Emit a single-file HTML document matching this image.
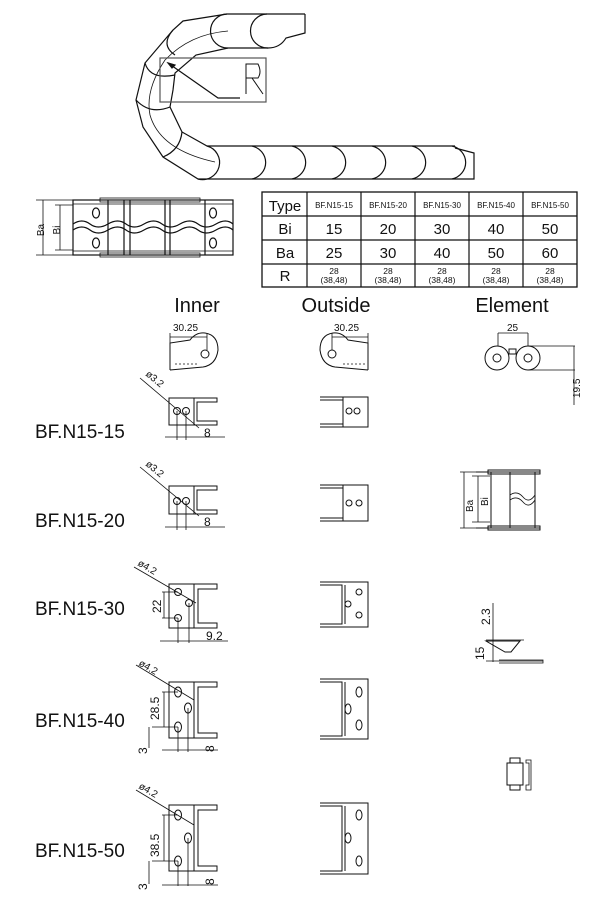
<!DOCTYPE html>
<html><head><meta charset="utf-8"><style>
html,body{margin:0;padding:0;background:#fff;}
svg{display:block;}
text{font-family:"Liberation Sans",sans-serif;fill:#111;}
</style></head><body>
<svg width="607" height="899" viewBox="0 0 607 899" xmlns="http://www.w3.org/2000/svg">
<g fill="none" stroke="#111" stroke-width="1.2">
<path d="M305,14 L227,14 L183,21 L173,30 L145,63 L136,100 L143,127 L163,157 L198,179 L455,179"/>
<path d="M305,14 L305,33 L286,38 Q280,48 268,48 L228,48 L196,55 L175,73 L173,90 L170,107 L182,132 L207,146 L455,146"/>
<path d="M227,14 A17,17 0 0 0 228,48"/>
<path d="M267,14 A17,17 0 0 0 268,48"/>
<path d="M173,30 Q160,45 175,55"/>
<path d="M145,63 Q150,80 175,75"/>
<path d="M136,100 Q150,115 170,107"/>
<path d="M163,157 Q180,150 182,132"/>
<path d="M207,146 A17,17 0 0 1 198,179" />
<path d="M455,148 L474,153 L474,179 L455,179"/>
<path d="M252,146 A18,17 0 0 1 252,179"/>
<path d="M292,146 A18,17 0 0 1 292,179"/>
<path d="M332,146 A18,17 0 0 1 332,179"/>
<path d="M372,146 A18,17 0 0 1 372,179"/>
<path d="M412,146 A18,17 0 0 1 412,179"/>
<path d="M452,146 A18,17 0 0 1 452,179"/>
<path stroke-width="0.8" d="M228,31 Q190,34 165,60 Q145,90 150,115 Q160,150 215,162"/>
<rect x="160" y="58" width="106" height="44" stroke="#555"/>
<path d="M168,63 L218,98 L240,98"/>
<path d="M168,63 l7,2 l-3,3z" fill="#111"/>
<path d="M246,94 L246,64 L258,64 Q262,72 258,78 L246,78 M252,78 L263,94" stroke-width="1"/>
<rect x="73" y="200" width="160" height="55"/>
<path d="M73,204 H233 M73,251 H233" stroke-width="0.8"/>
<path d="M108,200 V255 M124,200 V255 M130,200 V255 M165,200 V255 M170,200 V255 M205,200 V255"/>
<path d="M73,224 Q82,218 90,224 T108,224 T126,224 T144,224 T162,224 T180,224 T198,224 T216,224 T233,224"/>
<path d="M73,230 Q82,224 90,230 T108,230 T126,230 T144,230 T162,230 T180,230 T198,230 T216,230 T233,230"/>
<ellipse cx="96" cy="213" rx="3.5" ry="5"/><ellipse cx="96" cy="243" rx="3.5" ry="5"/>
<ellipse cx="213" cy="213" rx="3.5" ry="5"/><ellipse cx="213" cy="243" rx="3.5" ry="5"/>
<rect x="100" y="198" width="100" height="4" stroke-width="0.8"/>
<rect x="100" y="253" width="100" height="4" stroke-width="0.8"/>
<path d="M36,200 H73 M36,255 H73 M43,200 V255 M55,205 H73 M55,250 H73 M60,205 V250" stroke-width="0.8"/>
<rect x="262" y="192" width="315" height="95" stroke-width="1.3"/>
<path d="M262,216 H577 M262,240 H577 M262,264 H577 M307,192 V287 M361,192 V287 M415,192 V287 M469,192 V287 M523,192 V287"/>
</g>
<g font-size="10">
<text x="44" y="230" transform="rotate(-90 44 230)" text-anchor="middle" font-family="Liberation Serif">Ba</text>
<text x="60" y="230" transform="rotate(-90 60 230)" text-anchor="middle" font-family="Liberation Serif">Bi</text>
</g>
<g text-anchor="middle">
<text x="285" y="211" font-size="15">Type</text>
<text x="334" y="208" font-size="8">BF.N15-15</text><text x="388" y="208" font-size="8">BF.N15-20</text><text x="442" y="208" font-size="8">BF.N15-30</text><text x="496" y="208" font-size="8">BF.N15-40</text><text x="550" y="208" font-size="8">BF.N15-50</text>
<text x="285" y="234" font-size="15">Bi</text>
<text x="334" y="234" font-size="15">15</text><text x="388" y="234" font-size="15">20</text><text x="442" y="234" font-size="15">30</text><text x="496" y="234" font-size="15">40</text><text x="550" y="234" font-size="15">50</text>
<text x="285" y="258" font-size="15">Ba</text>
<text x="334" y="258" font-size="15">25</text><text x="388" y="258" font-size="15">30</text><text x="442" y="258" font-size="15">40</text><text x="496" y="258" font-size="15">50</text><text x="550" y="258" font-size="15">60</text>
<text x="285" y="281" font-size="15">R</text>
<g font-size="8.5"><text x="334" y="274">28</text><text x="334" y="283">(38,48)</text><text x="388" y="274">28</text><text x="388" y="283">(38,48)</text><text x="442" y="274">28</text><text x="442" y="283">(38,48)</text><text x="496" y="274">28</text><text x="496" y="283">(38,48)</text><text x="550" y="274">28</text><text x="550" y="283">(38,48)</text></g>
<text x="197" y="312" font-size="20">Inner</text>
<text x="336" y="312" font-size="20">Outside</text>
<text x="512" y="312" font-size="20">Element</text>
</g>
<g font-size="19">
<text x="35" y="438">BF.N15-15</text>
<text x="35" y="527">BF.N15-20</text>
<text x="35" y="615">BF.N15-30</text>
<text x="35" y="727">BF.N15-40</text>
<text x="35" y="857">BF.N15-50</text>
</g>
<g fill="none" stroke="#111" stroke-width="1">
<path d="M170,370 V343 L190,340 Q196,332 205,333 Q218,335 218,350 Q216,365 203,367 L170,370"/>
<circle cx="205" cy="354" r="4"/>
<path d="M170,337 H207 M170,333 V344 M207,333 V350" stroke-width="0.8"/>
<path d="M175,364 H198" stroke-dasharray="2,2" stroke-width="0.7"/>
<path d="M368,370 V343 L348,340 Q342,332 333,333 Q320,335 320,350 Q322,365 335,367 L368,370"/>
<circle cx="332" cy="354" r="4"/>
<path d="M332,337 H368 M332,333 V350 M368,333 V344" stroke-width="0.8"/>
<path d="M343,364 H365" stroke-dasharray="2,2" stroke-width="0.7"/>
<circle cx="497" cy="358" r="12"/><circle cx="528" cy="358" r="12"/>
<circle cx="497" cy="358" r="4"/><circle cx="528" cy="358" r="4"/>
<path d="M528,346 H575 M528,370 H575 M498,333 V346 M528,333 V346 M498,333 H528 M574,346 V405" stroke-width="0.8"/>
<rect x="509" y="349" width="7" height="5"/>
<rect x="169" y="398" width="25" height="27"/>
<path d="M194,398 H217 V402 H197 V421 H217 V425 H194" />
<circle cx="177" cy="411" r="3.5"/><circle cx="186" cy="411" r="3.5"/>
<path d="M140,378 L199,428 M177,411 V440 M186,411 V440 M165,437 H225" stroke-width="0.8"/>
<rect x="169" y="486" width="25" height="28"/>
<path d="M194,486 H217 V490 H197 V510 H217 V514 H194"/>
<circle cx="177" cy="501" r="3.5"/><circle cx="186" cy="501" r="3.5"/>
<path d="M140,467 L199,516 M177,501 V530 M186,501 V530 M165,527 H225" stroke-width="0.8"/>
<rect x="169" y="584" width="25" height="44"/>
<path d="M194,584 H217 V589 H198 V623 H217 V628 H194"/>
<circle cx="178" cy="592" r="3.5"/><circle cx="189" cy="603" r="3.5"/><circle cx="178" cy="618" r="3.5"/>
<path d="M134,567 L196,603 M178,618 V643 M189,603 V643 M160,641 H228 M162,592 H178 M162,618 H178 M164,592 V618" stroke-width="0.8"/>
<rect x="169" y="682" width="25" height="56"/>
<path d="M194,682 H217 V687 H198 V733 H217 V738 H194"/>
<ellipse cx="178" cy="692" rx="3.5" ry="5"/><ellipse cx="188" cy="708" rx="3.5" ry="5"/><ellipse cx="178" cy="727" rx="3.5" ry="5"/>
<path d="M136,665 L194,700 M178,727 V752 M188,708 V752 M162,750 H218 M162,692 H178 M152,727 H178 M164,692 V727 M149,727 V748" stroke-width="0.8"/>
<rect x="169" y="805" width="25" height="66"/>
<path d="M194,805 H217 V810 H198 V866 H217 V871 H194"/>
<ellipse cx="178" cy="815" rx="3.5" ry="5"/><ellipse cx="188" cy="838" rx="3.5" ry="5"/><ellipse cx="178" cy="861" rx="3.5" ry="5"/>
<path d="M136,790 L194,825 M178,861 V886 M188,838 V886 M162,885 H218 M162,815 H178 M152,861 H178 M164,815 V861 M149,861 V884" stroke-width="0.8"/>
<path d="M320,397 H368 V427 H320 M320,400 H343 V424 H320 M343,397 V427"/>
<circle cx="349" cy="411" r="3"/><circle cx="357" cy="411" r="3"/>
<path d="M320,485 H368 V521 H320 M320,488 H343 V518 H320 M343,485 V521"/>
<circle cx="349" cy="503" r="3"/><circle cx="359" cy="503" r="3"/>
<path d="M320,582 H368 V627 H320 M320,585 H342 V624 H320 M342,585 V624 M345,585 V624"/>
<circle cx="359" cy="592" r="3"/><circle cx="348" cy="604" r="3"/><circle cx="359" cy="615" r="3"/>
<path d="M320,679 H368 V739 H320 M320,682 H342 V736 H320 M345,682 V736"/>
<ellipse cx="359" cy="692" rx="3" ry="5"/><ellipse cx="348" cy="709" rx="3" ry="5"/><ellipse cx="359" cy="725" rx="3" ry="5"/>
<path d="M320,803 H368 V874 H320 M320,806 H342 V871 H320 M345,806 V871"/>
<ellipse cx="359" cy="815" rx="3" ry="5"/><ellipse cx="348" cy="838" rx="3" ry="5"/><ellipse cx="359" cy="861" rx="3" ry="5"/>
<path d="M476,472 H540 M476,528 H540 M491,472 V528 M510,472 V528 M535,472 V528" />
<rect x="488" y="470" width="52" height="4"/><rect x="488" y="526" width="52" height="4"/>
<path d="M510,495 Q517,490 523,497 T535,495 M510,500 Q517,495 523,502 T535,500" stroke-width="0.8"/>
<path d="M460,472 H478 M460,528 H478 M464,472 V528 M478,476 V522 M472,476 H490 M472,522 H490" stroke-width="0.8"/>
<path d="M493,603 V662 M486,640 H524 M486,661 H543 M499,663 H543 V660 H499" stroke-width="0.8"/>
<path d="M486,641 H520 L511,652 H505 Z"/>
<rect x="507" y="763" width="16" height="22"/><rect x="510" y="758" width="10" height="5"/><rect x="510" y="785" width="10" height="5"/>
<path d="M526,760 H531 V790 H526 V785 H529 V763 H526 Z" stroke-width="0.8"/>
</g>
<g font-size="10">
<text x="173" y="331">30.25</text>
<text x="334" y="331">30.25</text>
<text x="507" y="331">25</text>
<text x="580" y="398" transform="rotate(-90 580 398)">19.5</text>
<text x="145" y="375" transform="rotate(40 145 375)">ø3.2</text>
<text x="145" y="465" transform="rotate(40 145 465)">ø3.2</text>
<text x="137" y="565" transform="rotate(30 137 565)">ø4.2</text>
<text x="138" y="665" transform="rotate(30 138 665)">ø4.2</text>
<text x="138" y="788" transform="rotate(30 138 788)">ø4.2</text>
<text x="204" y="437" font-size="12">8</text>
<text x="204" y="526" font-size="12">8</text>
<text x="206" y="640" font-size="12">9.2</text>
<text x="214" y="752" transform="rotate(-90 214 752)" font-size="12">8</text>
<text x="214" y="885" transform="rotate(-90 214 885)" font-size="12">8</text>
<text x="161" y="613" transform="rotate(-90 161 613)" font-size="12">22</text>
<text x="159" y="720" transform="rotate(-90 159 720)" font-size="12">28.5</text>
<text x="159" y="857" transform="rotate(-90 159 857)" font-size="12">38.5</text>
<text x="147" y="754" transform="rotate(-90 147 754)" font-size="12">3</text>
<text x="147" y="890" transform="rotate(-90 147 890)" font-size="12">3</text>
<text x="473" y="512" transform="rotate(-90 473 512)" font-family="Liberation Serif">Ba</text>
<text x="488" y="506" transform="rotate(-90 488 506)" font-family="Liberation Serif">Bi</text>
<text x="490" y="625" transform="rotate(-90 490 625)" font-size="12">2.3</text>
<text x="484" y="660" transform="rotate(-90 484 660)" font-size="12">15</text>
</g>
</svg>
</body></html>
